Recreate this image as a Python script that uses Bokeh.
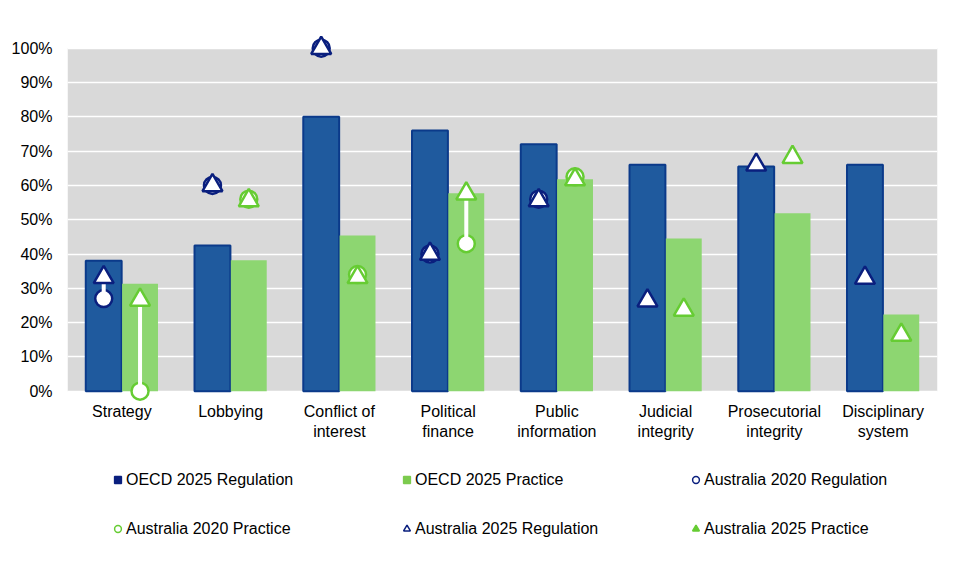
from bokeh.plotting import figure
from bokeh.layouts import column
from bokeh.models import (Range1d, FactorRange, ColumnDataSource, NumeralTickFormatter,
                          FixedTicker, Legend, LegendItem, BoxAnnotation)
from bokeh.transform import dodge
from bokeh.embed import file_html
from bokeh.resources import INLINE

nan = float("nan")

# Data (shares, 0..1)
categories = ["Strategy", "Lobbying", "Conflict of\ninterest", "Political\nfinance",
              "Public\ninformation", "Judicial\nintegrity", "Prosecutorial\nintegrity",
              "Disciplinary\nsystem"]
oecd_2025_regulation = [0.38, 0.425, 0.80, 0.76, 0.72, 0.66, 0.655, 0.66]
oecd_2025_practice = [0.313, 0.382, 0.454, 0.577, 0.618, 0.445, 0.519, 0.224]
aus_2020_regulation = [0.27, 0.60, 1.00, 0.40, 0.56, nan, nan, nan]
aus_2020_practice = [0.00, 0.56, 0.34, 0.43, 0.625, nan, nan, nan]
aus_2025_regulation = [0.332, 0.60, 1.00, 0.40, 0.556, 0.264, 0.66, 0.33]
aus_2025_practice = [0.266, 0.556, 0.332, 0.576, 0.617, 0.237, 0.682, 0.164]

BAR_BLUE = "#1F5A9E"
BAR_EDGE = "#0B3A8A"
BAR_GREEN = "#8DD671"
NAVY = "#0A1F7E"
GREEN = "#66CC33"
FONT = "Liberation Sans"

src = ColumnDataSource(dict(
    cat=categories,
    reg=oecd_2025_regulation, prac=oecd_2025_practice,
    reg20=aus_2020_regulation, prac20=aus_2020_practice,
    reg25=aus_2025_regulation, prac25=aus_2025_practice,
))

# frame runs a little past 0% and 100% so the end markers are not cut;
# the grey plot area itself only covers 0..1
p = figure(x_range=FactorRange(*categories), y_range=Range1d(-0.03, 1.04),
           frame_width=870, frame_height=367,
           min_border_left=67, min_border_right=12, min_border_top=34, min_border_bottom=45,
           output_backend="svg", toolbar_location=None)

p.background_fill_color = "white"
p.outline_line_color = None
plot_bg = BoxAnnotation(bottom=0, top=1, fill_color="#D9D9D9", fill_alpha=1,
                        line_color=None, level="image")
p.add_layout(plot_bg)
p.xgrid.grid_line_color = None
p.ygrid.grid_line_color = "white"
p.ygrid.grid_line_width = 1.5

p.yaxis.ticker = FixedTicker(ticks=[i / 10 for i in range(11)])
p.yaxis.formatter = NumeralTickFormatter(format="0%")
for ax in (p.xaxis, p.yaxis):
    ax.axis_line_color = None
    ax.major_tick_line_color = None
    ax.minor_tick_line_color = None
    ax.major_label_text_font = FONT
    ax.major_label_text_font_size = "16px"
    ax.major_label_text_color = "black"
p.yaxis.major_label_standoff = 9
p.xaxis.major_label_standoff = -5

left = dodge("cat", -0.167, range=p.x_range)
right = dodge("cat", 0.167, range=p.x_range)

p.vbar(x=left, top="reg", width=0.33, source=src, fill_color=BAR_BLUE,
       line_color=BAR_EDGE, line_width=2)
p.vbar(x=right, top="prac", width=0.33, source=src, fill_color=BAR_GREEN,
       line_color=None)

# 2020 circles
p.scatter(x=left, y="reg20", source=src, marker="circle", size=17,
          fill_color="white", line_color=NAVY, line_width=2.5)
p.scatter(x=right, y="prac20", source=src, marker="circle", size=17,
          fill_color="white", line_color=GREEN, line_width=2.5)

# change from 2020 to 2025
p.segment(x0=left, y0="reg20", x1=left, y1="reg25", source=src,
          line_color="white", line_width=4)
p.segment(x0=right, y0="prac20", x1=right, y1="prac25", source=src,
          line_color="white", line_width=4)

# 2025 triangles
p.scatter(x=left, y="reg25", source=src, marker="triangle", size=20,
          fill_color="white", line_color=NAVY, line_width=2.5)
p.scatter(x=right, y="prac25", source=src, marker="triangle", size=20,
          fill_color="white", line_color=GREEN, line_width=2.5)

# legend lives in its own small figure under the chart
leg = figure(width=949, height=115, min_border=0, x_axis_location=None, y_axis_location=None,
             output_backend="svg", toolbar_location=None)
leg.grid.visible = False
leg.outline_line_color = None

# row by row, three per row
lg = [
    ("OECD 2025 Regulation", "square", NAVY, NAVY),
    ("Australia 2020 Practice", "circle", "white", GREEN),
    ("OECD 2025 Practice", "square", "#7CCB4E", "#7CCB4E"),
    ("Australia 2025 Regulation", "triangle", "white", NAVY),
    ("Australia 2020 Regulation", "circle", "white", NAVY),
    ("Australia 2025 Practice", "triangle", GREEN, GREEN),
]
items = []
for label, marker, fill, line in lg:
    r = leg.scatter(x=[nan], y=[nan], marker=marker, fill_color=fill, line_color=line,
                    line_width=1.5)
    items.append(LegendItem(label=label, renderers=[r]))

legend = Legend(items=items, ncols=3, location=(42, 8),
                glyph_width=17, glyph_height=17, label_standoff=0,
                label_width=272, label_height=49, spacing=0,
                padding=0, margin=0, border_line_color=None,
                background_fill_alpha=0,
                label_text_font=FONT, label_text_font_size="16px",
                label_text_color="black")
leg.add_layout(legend, "center")

layout = column(p, leg, spacing=0)
open("out.html", "w").write(file_html(layout, INLINE))
